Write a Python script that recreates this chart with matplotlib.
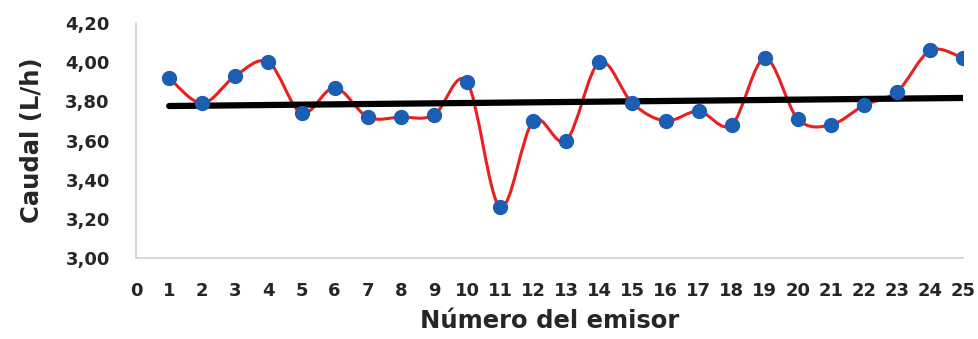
import numpy as np
import matplotlib
matplotlib.use("Agg")
import matplotlib.pyplot as plt
from matplotlib.path import Path
from matplotlib.patches import PathPatch

# Caudal por emisor (L/h)
emisor = list(range(1, 26))
caudal = [3.92, 3.79, 3.93, 4.00, 3.74, 3.87, 3.72, 3.72, 3.73, 3.90,
          3.26, 3.70, 3.60, 4.00, 3.79, 3.70, 3.75, 3.68, 4.02, 3.71,
          3.68, 3.78, 3.85, 4.06, 4.02]
y_ticks = [3.00, 3.20, 3.40, 3.60, 3.80, 4.00, 4.20]
x_ticks = list(range(0, 26))

plt.rcParams['font.family'] = ['DejaVu Sans']
plt.rcParams['font.weight'] = 'bold'

fig = plt.figure(figsize=(9.79, 3.39), dpi=100)
ax = fig.add_axes([0.139, 0.239, 0.845, 0.693])

x = np.array(emisor, dtype=float)
y = np.array(caudal)

# smoothed line like Excel (cubic bezier, catmull-rom style control points)
verts = [(x[0], y[0])]
codes = [Path.MOVETO]
t = 1 / 6
for i in range(len(x) - 1):
    p0 = np.array([x[max(i - 1, 0)], y[max(i - 1, 0)]])
    p1 = np.array([x[i], y[i]])
    p2 = np.array([x[i + 1], y[i + 1]])
    p3 = np.array([x[min(i + 2, len(x) - 1)], y[min(i + 2, len(x) - 1)]])
    c1 = p1 + (p2 - p0) * t
    c2 = p2 - (p3 - p1) * t
    verts += [tuple(c1), tuple(c2), tuple(p2)]
    codes += [Path.CURVE4] * 3
ax.add_patch(PathPatch(Path(verts, codes), facecolor='none', edgecolor='#e8201f',
                       lw=2.2, zorder=2))

# linear trend
m, b = np.polyfit(x, y, 1)
ax.plot([x[0], x[-1]], [m * x[0] + b, m * x[-1] + b], color='black', lw=4.5,
        solid_capstyle='round', zorder=3)

ax.plot(x, y, linestyle='none', marker='o', markersize=10, color='#1a5fb4',
        zorder=4)

ax.set_xlim(0, 25)
ax.set_ylim(3.0, 4.2)
ax.set_xticks(x_ticks)
ax.set_yticks(y_ticks)
ax.set_yticklabels([f"{v:.2f}".replace('.', ',') for v in y_ticks])
ax.tick_params(length=0, labelsize=13, colors='#262626')
ax.tick_params(axis='x', pad=17)
ax.tick_params(axis='y', pad=19)

for s in ['top', 'right']:
    ax.spines[s].set_visible(False)
for s in ['left', 'bottom']:
    ax.spines[s].set_color('#d0d0d0')
    ax.spines[s].set_linewidth(1.2)

ax.set_xlabel("Número del emisor", fontsize=17.5, fontweight='bold',
              color='#262626', labelpad=7)
ax.set_ylabel("Caudal (L/h)", fontsize=17.5, fontweight='bold',
              color='#262626', labelpad=15)

fig.savefig("out.png", dpi=100, facecolor='white')
